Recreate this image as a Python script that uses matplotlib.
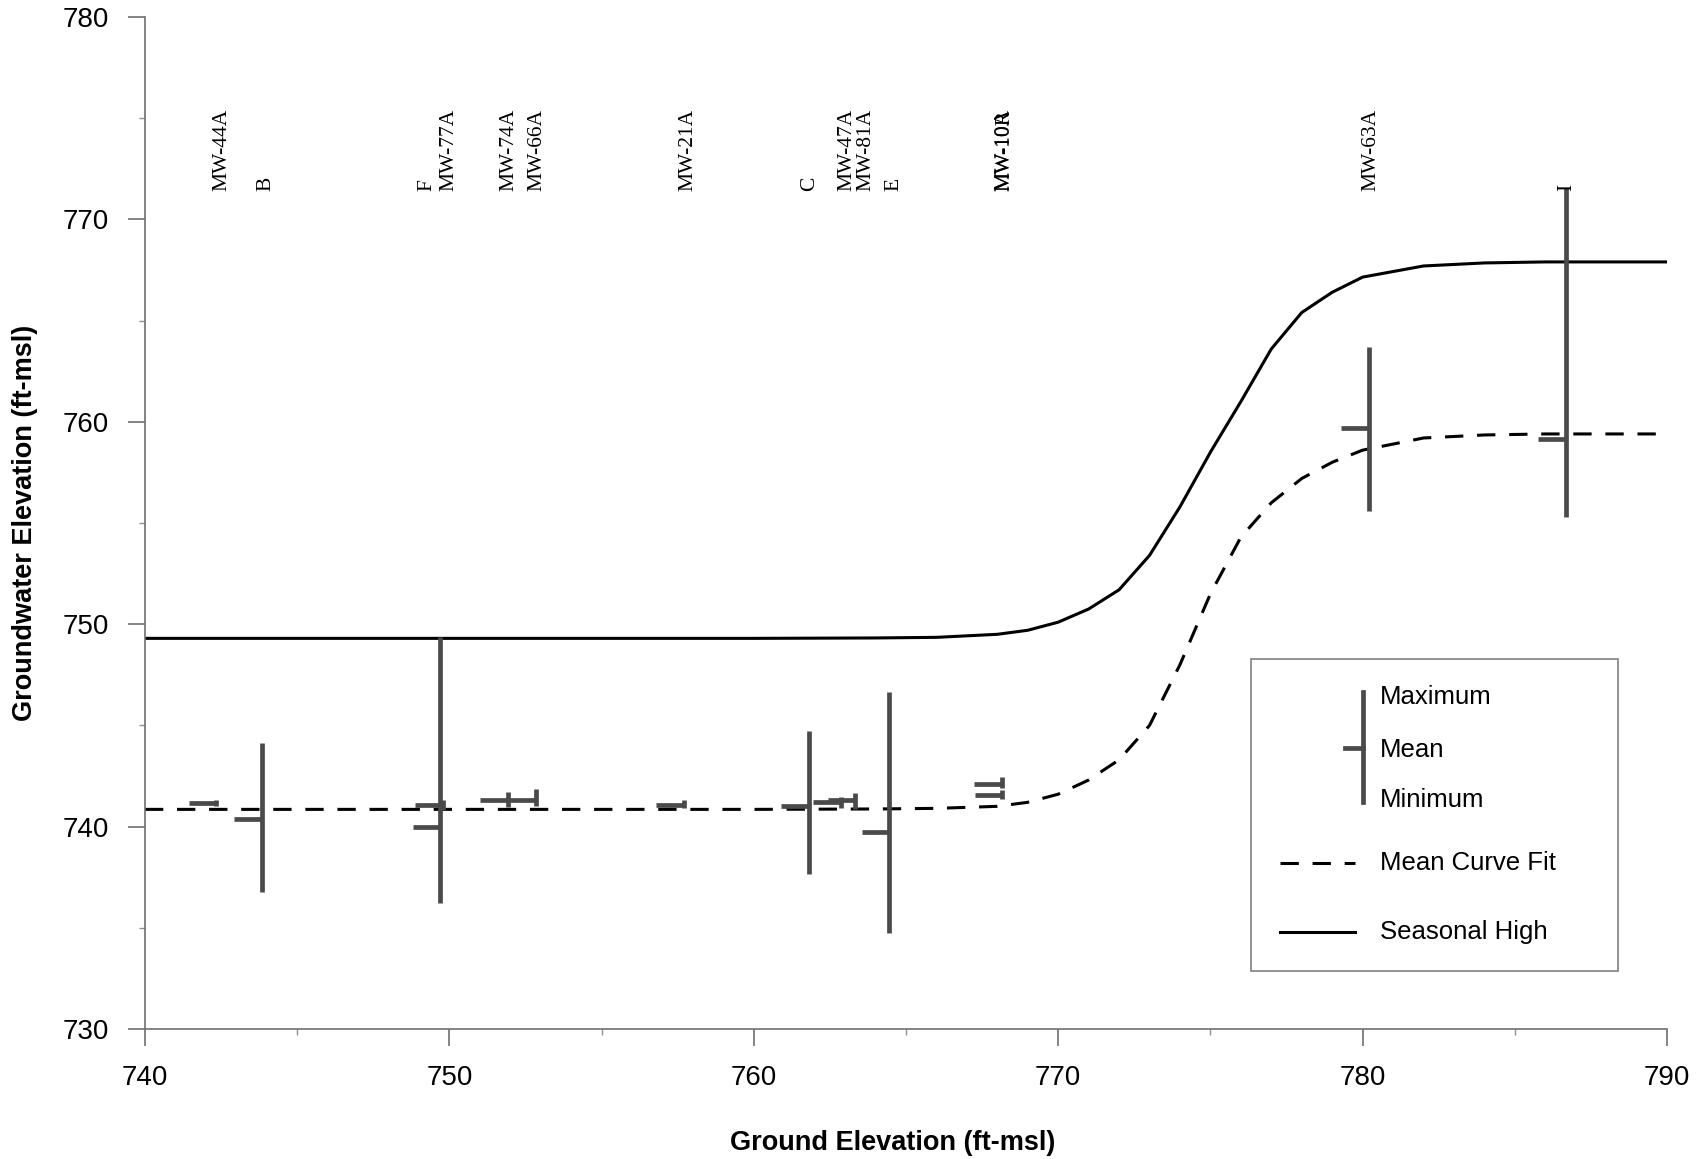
import numpy as np;
import matplotlib;
matplotlib.use( "Agg" );
import matplotlib.pyplot as plt;
from matplotlib.ticker import MultipleLocator;

# Wells: ground elevation and groundwater mean, maximum, minimum.

well_names   = [ "MW-44A", "B", "F", "MW-77A", "MW-74A", "MW-66A", "MW-21A", "C", "MW-47A", "MW-81A", "E", "MW-10A", "MW-10R", "MW-63A", "I" ];
well_ground  = [ 742.35, 743.83, 749.70, 749.78, 751.92, 752.84, 757.70, 761.80, 762.85, 763.33, 764.45, 768.15, 768.17, 780.20, 786.67 ];
well_mean    = [ 741.18, 740.38, 740.00, 741.07, 741.30, 741.30, 741.07, 741.00, 741.20, 741.30, 739.72, 742.10, 741.55, 759.68, 759.13 ];
well_max     = [ 741.30, 744.15, 749.35, 741.30, 741.70, 741.85, 741.30, 744.74, 741.45, 741.68, 746.67, 742.45, 741.80, 763.68, 771.54 ];
well_min     = [ 741.00, 736.78, 736.20, 740.80, 740.95, 741.00, 740.90, 737.64, 740.90, 740.86, 734.73, 741.90, 741.35, 755.60, 755.31 ];

# Where each well name is written along the top.

label_x      = [ 742.53, 743.96, 749.25, 750.00, 751.97, 752.88, 757.85, 761.83, 763.05, 763.70, 764.59, 768.22, 768.24, 780.26, 786.70 ];

# Curve fits.

curve_x       = [ 740, 744, 748, 752, 756, 760, 764, 766, 768, 769, 770, 771, 772, 773, 774, 775, 776, 777, 778, 779, 780, 782, 784, 786, 788, 790 ];
mean_fit      = [ 740.85, 740.85, 740.85, 740.85, 740.85, 740.85, 740.87, 740.9, 741.0, 741.2, 741.6, 742.3, 743.3, 745.0, 748.0, 751.5, 754.3, 756.0, 757.2, 758.0, 758.6, 759.2, 759.35, 759.4, 759.4, 759.4 ];
seasonal_high = [ 749.3, 749.3, 749.3, 749.3, 749.3, 749.3, 749.32, 749.35, 749.5, 749.7, 750.1, 750.75, 751.7, 753.4, 755.8, 758.5, 761.0, 763.6, 765.4, 766.4, 767.15, 767.7, 767.85, 767.9, 767.9, 767.9 ];

bar_color = "#4a4a4a";
mean_tick = 0.9;

fig = plt.figure( figsize = ( 16.99, 11.59 ), dpi = 100 );
ax = fig.add_axes( [ 0.0853, 0.1122, 0.8959, 0.8731 ] );

#--------------------------------------------------------------------------

# Curves.

ax.plot( curve_x, seasonal_high, "-", color = "black", linewidth = 2.2 );
ax.plot( curve_x, mean_fit, "--", color = "black", linewidth = 2.2, dashes = ( 6, 4.5 ) );

# Max / min bars with the mean tick on the left.

ax.vlines( well_ground, well_min, well_max, color = bar_color, linewidth = 3.4 );
ax.hlines( well_mean, np.array( well_ground ) - mean_tick, well_ground, color = bar_color, linewidth = 3.4 );

# Well names.

for name, lx in zip( well_names, label_x ):

	ax.text( lx, 771.4, name, rotation = 90, ha = "center", va = "bottom", fontsize = 15.5, family = "Liberation Serif" );

#--------------------------------------------------------------------------

# Axes.

ax.set_xlim( 740, 790 );
ax.set_ylim( 730, 780 );
ax.xaxis.set_major_locator( MultipleLocator( 10 ) );
ax.xaxis.set_minor_locator( MultipleLocator( 5 ) );
ax.yaxis.set_major_locator( MultipleLocator( 10 ) );
ax.yaxis.set_minor_locator( MultipleLocator( 5 ) );

for side in [ "top", "right" ]:
	ax.spines[ side ].set_visible( False );
for side in [ "left", "bottom" ]:
	ax.spines[ side ].set_color( "#707070" );
	ax.spines[ side ].set_linewidth( 1.2 );

ax.tick_params( which = "major", direction = "out", length = 12, width = 1.2, color = "#707070", pad = 14, labelsize = 20 );
ax.tick_params( which = "minor", direction = "out", length = 4, width = 1.0, color = "#909090" );

for lab in ax.get_xticklabels( ) + ax.get_yticklabels( ):
	lab.set_family( "Liberation Sans" );

ax.set_xlabel( "Ground Elevation (ft-msl)", fontsize = 19.5, fontweight = "bold", family = "Liberation Sans" );
ax.set_ylabel( "Groundwater Elevation (ft-msl)", fontsize = 19.5, fontweight = "bold", family = "Liberation Sans" );
ax.xaxis.set_label_coords( 0.491, -0.100 );
ax.yaxis.set_label_coords( -0.070, 0.5 );

#--------------------------------------------------------------------------

# Legend, drawn by hand in axes fraction.

tr = ax.transAxes;

ax.add_patch( plt.Rectangle( ( 0.7267, 0.0573 ), 0.2411, 0.3083, transform = tr, fill = False, edgecolor = "#808080", linewidth = 1.2 ) );

ax.plot( [ 0.8005, 0.8005 ], [ 0.2246, 0.3333 ], transform = tr, color = bar_color, linewidth = 3.4 );
ax.plot( [ 0.7884, 0.8005 ], [ 0.2774, 0.2774 ], transform = tr, color = bar_color, linewidth = 3.4 );
ax.plot( [ 0.7457, 0.7950 ], [ 0.1637, 0.1637 ], transform = tr, color = "black", linewidth = 2.2, dashes = ( 6, 4.5 ) );
ax.plot( [ 0.7457, 0.7950 ], [ 0.0961, 0.0961 ], transform = tr, color = "black", linewidth = 2.2 );

legend_text = [ ( "Maximum", 0.3284 ), ( "Mean", 0.2757 ), ( "Minimum", 0.2263 ), ( "Mean Curve Fit", 0.1637 ), ( "Seasonal High", 0.0961 ) ];

for txt, ty in legend_text:

	ax.text( 0.8114, ty, txt, transform = tr, ha = "left", va = "center", fontsize = 18.5, family = "Liberation Sans" );

fig.savefig( "out.png", dpi = 100 );
